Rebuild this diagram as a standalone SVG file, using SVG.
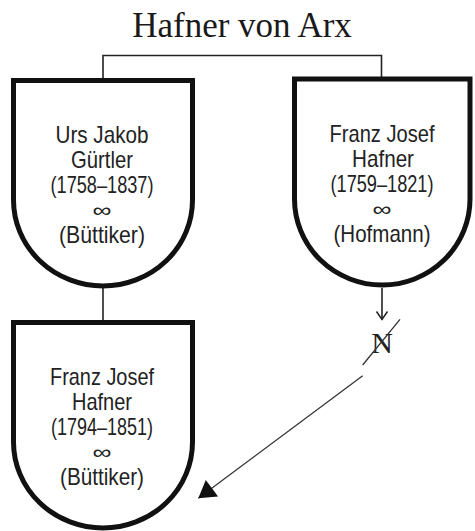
<svg xmlns="http://www.w3.org/2000/svg" width="475" height="531" viewBox="0 0 475 531">
  <style>
    .shield { fill: #ffffff; stroke: #111111; stroke-width: 5; stroke-linejoin: miter; }
    .lbl { font-family: "Liberation Sans", Arial, sans-serif; font-size: 24px; fill: #222222; text-anchor: middle; }
    .inf { font-family: "Liberation Sans", Arial, sans-serif; font-size: 20px; fill: #222222; text-anchor: middle; }
    .title { font-family: "Liberation Serif", "Times New Roman", serif; font-size: 35px; fill: #1a1a1a; text-anchor: middle; }
    .conn { fill: none; stroke: #222222; stroke-width: 1.6; }
    .thin { fill: none; stroke: #333333; stroke-width: 1.3; }
    .sym { font-family: "Liberation Serif", "Times New Roman", serif; font-size: 30px; fill: #222222; text-anchor: middle; }
  </style>
  <defs>
    <marker id="arrowOpen" viewBox="-10 -7 12 14" refX="0" refY="0" markerWidth="12" markerHeight="14" markerUnits="userSpaceOnUse" orient="auto">
      <path d="M-8,-5.5 L0,0 L-8,5.5" fill="none" stroke="#222222" stroke-width="1.5"/>
    </marker>
    <marker id="arrowFilled" viewBox="-18 -11 20 22" refX="0" refY="0" markerWidth="20" markerHeight="22" markerUnits="userSpaceOnUse" orient="auto">
      <path d="M0,0 L-17,-10.3 L-17,10.3 Z" fill="#111111"/>
    </marker>
  </defs>

  <text class="title" x="242" y="37">Hafner von Arx</text>

  <g id="connectors">
    <path class="conn" d="M103,80 V55.5 H381.5 V79"/>
    <path class="conn" d="M103,286 V322"/>
    <path class="conn" d="M382,288 V319.5" marker-end="url(#arrowOpen)"/>
    <path class="thin" d="M362.7,375.7 L198.3,498.3" marker-end="url(#arrowFilled)"/>
  </g>

  <g id="node-urs-jakob-guertler">
    <path class="shield" d="M13.5,80.5 H192.5 V200 A89.5 86 0 0 1 13.5,200 Z"/>
    <text class="lbl" x="102" y="143" textLength="93" lengthAdjust="spacingAndGlyphs">Urs Jakob</text>
    <text class="lbl" x="102" y="168" textLength="62" lengthAdjust="spacingAndGlyphs">Gürtler</text>
    <text class="lbl" x="102" y="193" textLength="103" lengthAdjust="spacingAndGlyphs">(1758–1837)</text>
    <text class="inf" x="102" y="217" textLength="19" lengthAdjust="spacingAndGlyphs">∞</text>
    <text class="lbl" x="102" y="243" textLength="86" lengthAdjust="spacingAndGlyphs">(Büttiker)</text>
  </g>

  <g id="node-franz-josef-hafner-1759">
    <path class="shield" d="M294.5,79 H470 V199 A87.75 86 0 0 1 294.5,199 Z"/>
    <text class="lbl" x="382" y="142" textLength="105" lengthAdjust="spacingAndGlyphs">Franz Josef</text>
    <text class="lbl" x="383" y="167" textLength="62" lengthAdjust="spacingAndGlyphs">Hafner</text>
    <text class="lbl" x="382" y="192" textLength="103" lengthAdjust="spacingAndGlyphs">(1759–1821)</text>
    <text class="inf" x="382" y="216" textLength="19" lengthAdjust="spacingAndGlyphs">∞</text>
    <text class="lbl" x="382" y="242" textLength="97" lengthAdjust="spacingAndGlyphs">(Hofmann)</text>
  </g>

  <g id="node-no-descendants">
    <text class="sym" x="382" y="353">N</text>
    <path class="thin" d="M362.7,365 L400,319.3"/>
  </g>

  <g id="node-franz-josef-hafner-1794">
    <path class="shield" d="M13.5,322.5 H192.5 V442 A89.5 86 0 0 1 13.5,442 Z"/>
    <text class="lbl" x="102" y="385" textLength="104" lengthAdjust="spacingAndGlyphs">Franz Josef</text>
    <text class="lbl" x="102" y="410" textLength="60" lengthAdjust="spacingAndGlyphs">Hafner</text>
    <text class="lbl" x="102" y="435" textLength="102" lengthAdjust="spacingAndGlyphs">(1794–1851)</text>
    <text class="inf" x="102" y="459" textLength="19" lengthAdjust="spacingAndGlyphs">∞</text>
    <text class="lbl" x="102" y="485" textLength="84" lengthAdjust="spacingAndGlyphs">(Büttiker)</text>
  </g>
</svg>
